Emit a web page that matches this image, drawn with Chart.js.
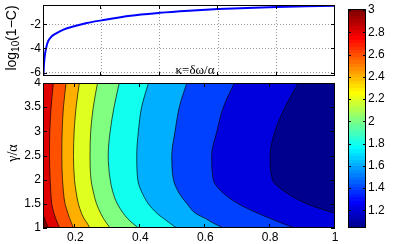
<!DOCTYPE html>
<html>
<head>
<meta charset="utf-8">
<script src="https://cdn.jsdelivr.net/npm/chart.js@4.4.1/dist/chart.umd.min.js"></script>
<style>
	html, body { margin: 0; padding: 0; background: #fff; }
	#wrap { position: relative; width: 415px; height: 244px; overflow: hidden; background: #fff; }
	#wrap canvas { position: absolute; }
</style>
</head>
<body>
<div id="wrap">
	<canvas id="cv-top" width="345" height="80" style="left:0;top:0"></canvas>
	<canvas id="cv-map" width="345" height="166" style="left:0;top:78px"></canvas>
	<canvas id="cv-bar" width="75" height="244" style="left:340px;top:0"></canvas>
</div>
<script>
// ── top panel: log10(1-C) over kappa ──
var kappaTop = [0.0015, 0.0025, 0.004, 0.007, 0.012, 0.018, 0.03, 0.045, 0.07, 0.1, 0.15, 0.2, 0.3, 0.4, 0.5, 0.6, 0.7, 0.8, 0.9, 1.0];
var logOneMinusC = [-6.25, -5.65, -5.1, -4.45, -3.85, -3.38, -3.0, -2.75, -2.44, -2.21, -1.9, -1.68, -1.29, -1.06, -0.89, -0.75, -0.65, -0.57, -0.52, -0.47];
var topXTicks = [0.2, 0.4, 0.6, 0.8];
var topYTicks = [-6, -4, -2];

// ── bottom panel: kappa position of each contour level, per gamma row ──
var gammaRows = [1, 1.1, 1.2, 1.3, 1.5, 1.75, 2, 2.5, 3, 3.5, 4];
var levels = [1.2, 1.4, 1.6, 1.8, 2.0, 2.2, 2.4, 2.6, 2.8, 3.0];
var c12 = [null, null, null, 1.000, 0.913, 0.846, 0.807, 0.800, 0.815, 0.846, 0.887];
var c14 = [0.877, 0.836, 0.800, 0.764, 0.702, 0.651, 0.625, 0.620, 0.636, 0.656, 0.690];
var c16 = [0.656, 0.625, 0.600, 0.571, 0.544, 0.517, 0.502, 0.497, 0.507, 0.520, 0.543];
var c18 = [0.512, 0.491, 0.471, 0.452, 0.425, 0.404, 0.392, 0.389, 0.394, 0.404, 0.425];
var c20 = [0.394, 0.376, 0.360, 0.348, 0.329, 0.315, 0.307, 0.301, 0.307, 0.319, 0.335];
var c22 = [0.307, 0.296, 0.286, 0.278, 0.265, 0.255, 0.248, 0.245, 0.247, 0.255, 0.268];
var c24 = [0.245, 0.236, 0.226, 0.219, 0.209, 0.202, 0.197, 0.194, 0.196, 0.202, 0.212];
var c26 = [0.194, 0.188, 0.182, 0.177, 0.168, 0.163, 0.160, 0.158, 0.159, 0.163, 0.171];
var c28 = [0.152, 0.145, 0.139, 0.134, 0.127, 0.124, 0.122, 0.120, 0.121, 0.125, 0.132];
var c30 = [0.118, 0.110, 0.105, 0.100, null, null, null, null, null, null, null];
var mapXTicks = [0.2, 0.4, 0.6, 0.8, 1];
var mapYTicks = [1, 1.5, 2, 2.5, 3, 3.5, 4];

// ── colorbar ──
var zMin = 1.04, zMax = 3.01;
var barTicks = [1.2, 1.4, 1.6, 1.8, 2, 2.2, 2.4, 2.6, 2.8, 3];

Chart.defaults.font.family = "'Liberation Sans', Arial, sans-serif";
Chart.defaults.font.size = 12;
Chart.defaults.color = '#000';

// matlab jet(64), row i = 1..64
function jetRow(i) {
	function u(j) {
		if (j < 1 || j > 47) return 0;
		if (j <= 16) return j / 16;
		if (j <= 31) return 1;
		return (48 - j) / 16;
	}
	var r = i >= 25 ? u(i - 24) : 0;
	var g = (i >= 9 && i <= 55) ? u(i - 8) : 0;
	var b = i <= 39 ? u(i + 8) : 0;
	return 'rgb(' + Math.round(r * 255) + ',' + Math.round(g * 255) + ',' + Math.round(b * 255) + ')';
}

function levelColor(v) {
	var idx = Math.floor((v - zMin) / (zMax - zMin) * 64) + 1;
	idx = Math.max(1, Math.min(64, idx));
	return jetRow(idx);
}

function fmtTick(v) { return String(v); }

function fixedTicks(list) {
	return function (scale) { scale.ticks = list.map(function (v) { return { value: v }; }); };
}

// force axis size and drop label overflow padding so plot boxes sit where they should
function fitSize(w, h) {
	return function (s) {
		if (w !== null) s.width = w;
		if (h !== null) s.height = h;
		s.paddingTop = 0; s.paddingBottom = 0; s.paddingLeft = 0; s.paddingRight = 0;
	};
}

// box + inward ticks on all four sides
var matlabBox = {
	id: 'matlabBox',
	afterDatasetsDraw: function (chart, args, opts) {
		var a = chart.chartArea, c = chart.ctx, len = opts.tickLen || 4;
		c.save();
		c.strokeStyle = '#000';
		c.lineWidth = 1;
		c.beginPath();
		(opts.xTicks || []).forEach(function (v) {
			var px = Math.round(chart.scales.x.getPixelForValue(v)) - 0.5;
			c.moveTo(px, a.bottom); c.lineTo(px, a.bottom - len);
			c.moveTo(px, a.top); c.lineTo(px, a.top + len);
		});
		(opts.yTicks || []).forEach(function (v) {
			var py = Math.round(chart.scales.y.getPixelForValue(v)) + 0.5;
			c.moveTo(a.left, py); c.lineTo(a.left + len, py);
			c.moveTo(a.right, py); c.lineTo(a.right - len, py);
		});
		c.stroke();
		c.strokeRect(a.left + 0.5, a.top + 0.5, a.right - a.left - 1, a.bottom - a.top - 1);
		c.restore();
	}
};

var areaFill = {
	id: 'areaFill',
	beforeDatasetsDraw: function (chart, args, opts) {
		var a = chart.chartArea;
		chart.ctx.save();
		chart.ctx.fillStyle = opts.color;
		chart.ctx.fillRect(a.left, a.top, a.right - a.left, a.bottom - a.top);
		chart.ctx.restore();
	}
};

var topLabels = {
	id: 'topLabels',
	afterDraw: function (chart) {
		var c = chart.ctx;
		c.save();
		c.fillStyle = '#000';
		c.textBaseline = 'alphabetic';
		// y label log10(1-C), rotated
		var big = "14px 'Liberation Sans', Arial, sans-serif";
		var small = "10px 'Liberation Sans', Arial, sans-serif";
		c.font = big; var w1 = c.measureText('log').width; var w3 = c.measureText('(1\u2212C)').width;
		c.font = small; var w2 = c.measureText('10').width;
		c.translate(16, 38);
		c.rotate(-Math.PI / 2);
		var x0 = -(w1 + w2 + w3) / 2;
		c.font = big; c.fillText('log', x0, 0);
		c.font = small; c.fillText('10', x0 + w1, 3);
		c.font = big; c.fillText('(1\u2212C)', x0 + w1 + w2, 0);
		c.restore();
		c.save();
		c.fillStyle = '#000';
		c.font = "13px 'Liberation Serif', 'DejaVu Serif', serif";
		c.textAlign = 'center';
		c.fillText('\u03ba=\u03b4\u03c9/\u03b1', 195, 74);
		c.restore();
	}
};

var mapLabels = {
	id: 'mapLabels',
	afterDraw: function (chart) {
		var c = chart.ctx;
		c.save();
		c.fillStyle = '#000';
		c.font = "14px 'Liberation Serif', 'DejaVu Serif', serif";
		c.textAlign = 'center';
		c.translate(17, 75);
		c.rotate(-Math.PI / 2);
		c.fillText('\u03b3/\u03b1', 0, 0);
		c.restore();
	}
};

var gridColor = 'rgba(0,0,0,0.4)';

new Chart(document.getElementById('cv-top'), {
	type: 'line',
	data: {
		datasets: [{
			data: kappaTop.map(function (k, i) { return { x: k, y: logOneMinusC[i] }; }),
			borderColor: '#0000ff', borderWidth: 2, pointRadius: 0,
			cubicInterpolationMode: 'monotone', fill: false
		}]
	},
	options: {
		responsive: false, animation: false,
		layout: { padding: { top: 5, right: 10, left: 0, bottom: 0 } },
		plugins: {
			legend: { display: false }, tooltip: { enabled: false },
			matlabBox: { xTicks: topXTicks, yTicks: topYTicks, tickLen: 4 }
		},
		scales: {
			x: {
				type: 'linear', min: 0, max: 1,
				afterBuildTicks: fixedTicks(topXTicks),
				afterFit: fitSize(null, 4),
				ticks: { display: false },
				grid: { color: gridColor, drawTicks: false },
				border: { display: false, dash: [1, 2] }
			},
			y: {
				type: 'linear', min: -6.28, max: -0.41,
				afterBuildTicks: fixedTicks(topYTicks),
				afterFit: fitSize(43, null),
				ticks: { padding: 2, callback: fmtTick },
				grid: { color: gridColor, drawTicks: false },
				border: { display: false, dash: [1, 2] }
			}
		}
	},
	plugins: [matlabBox, topLabels]
});

var contourSets = [c12, c14, c16, c18, c20, c22, c24, c26, c28, c30];
var mapDatasets = contourSets.map(function (arr, i) {
	var pts = [];
	gammaRows.forEach(function (g, j) {
		if (arr[j] !== null) pts.push({ x: arr[j], y: g });
	});
	var top = i === levels.length - 1;
	return {
		data: pts,
		borderColor: 'rgba(0,0,0,0.85)',
		borderWidth: 0.8,
		pointRadius: 0,
		cubicInterpolationMode: 'monotone',
		fill: top ? { value: 0.1 } : { value: 1 },
		backgroundColor: top ? levelColor(levels[i]) : levelColor(i === 0 ? zMin : levels[i - 1])
	};
});

new Chart(document.getElementById('cv-map'), {
	type: 'line',
	data: { datasets: mapDatasets },
	options: {
		responsive: false, animation: false,
		indexAxis: 'y',
		layout: { padding: { top: 5, right: 10, left: 0, bottom: 0 } },
		plugins: {
			legend: { display: false }, tooltip: { enabled: false },
			areaFill: { color: levelColor(2.8) },
			matlabBox: { xTicks: mapXTicks, yTicks: mapYTicks, tickLen: 4 }
		},
		scales: {
			x: {
				type: 'linear', min: 0.1, max: 1,
				afterBuildTicks: fixedTicks(mapXTicks),
				afterFit: fitSize(null, 16),
				ticks: { padding: 2, callback: fmtTick, maxRotation: 0 },
				grid: { display: false, drawTicks: false },
				border: { display: false }
			},
			y: {
				type: 'linear', min: 1, max: 4,
				afterBuildTicks: fixedTicks(mapYTicks),
				afterFit: fitSize(43, null),
				ticks: { padding: 2, callback: fmtTick },
				grid: { display: false, drawTicks: false },
				border: { display: false }
			}
		}
	},
	plugins: [areaFill, matlabBox, mapLabels]
});

function colorbarFill(ctx) {
	var chart = ctx.chart;
	if (!chart.chartArea) return null;
	var ys = chart.scales.y;
	var g = chart.ctx.createLinearGradient(0, ys.getPixelForValue(zMin), 0, ys.getPixelForValue(zMax));
	for (var k = 0; k < 64; k++) {
		var col = jetRow(k + 1);
		g.addColorStop(k / 64, col);
		g.addColorStop((k + 1) / 64, col);
	}
	return g;
}

new Chart(document.getElementById('cv-bar'), {
	type: 'bar',
	data: {
		labels: ['z'],
		datasets: [{
			data: [[zMin, zMax]],
			backgroundColor: colorbarFill,
			borderWidth: 0,
			barPercentage: 1, categoryPercentage: 1
		}]
	},
	options: {
		responsive: false, animation: false,
		layout: { padding: { top: 9, left: 8, right: 0, bottom: 16 } },
		plugins: {
			legend: { display: false }, tooltip: { enabled: false },
			matlabBox: { yTicks: barTicks, tickLen: 3 }
		},
		scales: {
			x: { display: false },
			y: {
				position: 'right', min: zMin, max: zMax,
				afterBuildTicks: fixedTicks(barTicks),
				afterFit: fitSize(49, null),
				ticks: { padding: 2, callback: fmtTick },
				grid: { display: false, drawTicks: false },
				border: { display: false }
			}
		}
	},
	plugins: [matlabBox]
});
</script>
</body>
</html>
